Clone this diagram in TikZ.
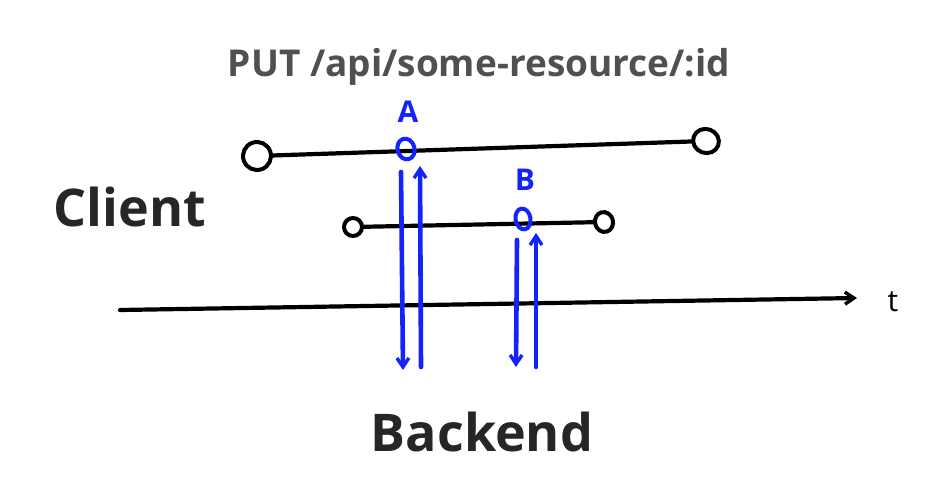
\documentclass[tikz,border=0pt]{standalone}
\usepackage{fontspec}
\setmainfont{Open Sans}
\usetikzlibrary{arrows.meta,shapes.geometric}
\definecolor{penblue}{RGB}{20,35,250}
\definecolor{titlegray}{RGB}{80,80,80}
\tikzset{
  inkline/.style={line width=4.2pt, black, line cap=round},
  blueline/.style={line width=4.6pt, penblue, line cap=round},
  endcircle/.style={line width=4pt, black, draw, ellipse, inner sep=0pt},
  bluecircle/.style={line width=4pt, penblue, draw, ellipse, inner sep=0pt},
  bigword/.style={font=\bfseries\fontsize{52}{58}\selectfont, text=black!85, inner sep=0pt},
  bluelabel/.style={font=\bfseries\fontsize{30}{34}\selectfont, text=penblue, inner sep=0pt},
  barb/.style={-{Straight Barb[length=9pt,width=12pt,line width=3.4pt]}}
}
\begin{document}
\begin{tikzpicture}[x=1pt,y=-1pt]
\useasboundingbox (0,0) rectangle (942,488);
\fill[white] (0,0) rectangle (942,488);
% title
\node[font=\bfseries\fontsize{37}{42}\selectfont, text=titlegray, inner sep=0pt] (title) at (479,67) {PUT /api/some-resource/:id};
% labels
\node[bigword] (client) at (130,207) {Client};
\node[bigword] (backend) at (482,432) {Backend};
\node[font=\fontsize{30}{34}\selectfont, inner sep=0pt] (t) at (893,302) {t};
\node[bluelabel] (A) at (408,112) {A};
\node[bluelabel] (B) at (525,180) {B};
% request 1 line
\node[endcircle, minimum width=28pt, minimum height=28pt, rotate=20] (c1l) at (257,156) {};
\node[endcircle, minimum width=26pt, minimum height=24pt, rotate=-20] (c1r) at (706,141) {};
\draw[inkline] (c1l) -- (c1r);
\node[bluecircle, minimum width=17pt, minimum height=21pt, rotate=15] (ca) at (406,149) {};
% request 2 line
\node[endcircle, minimum width=18pt, minimum height=18pt] (c2l) at (353,227) {};
\node[endcircle, minimum width=18pt, minimum height=20pt, rotate=15] (c2r) at (604,222) {};
\draw[inkline] (c2l) -- (c2r);
\node[bluecircle, minimum width=15pt, minimum height=21pt, rotate=10] (cb) at (523,219) {};
% time axis
\coordinate (t0) at (120,310);
\coordinate (t1) at (857,298);
\draw[inkline, barb] (t0) -- (t1);
% blue arrows A
\coordinate (a1s) at (401,172);
\coordinate (a1e) at (403,370);
\coordinate (a2s) at (421,367);
\coordinate (a2e) at (420,166);
\draw[blueline, barb] (a1s) -- (a1e);
\draw[blueline, barb] (a2s) -- (a2e);
% blue arrows B
\coordinate (b1s) at (517,240);
\coordinate (b1e) at (516,367);
\coordinate (b2s) at (536,367);
\coordinate (b2e) at (536,233);
\draw[blueline, barb] (b1s) -- (b1e);
\draw[blueline, barb] (b2s) -- (b2e);
\end{tikzpicture}
\end{document}
